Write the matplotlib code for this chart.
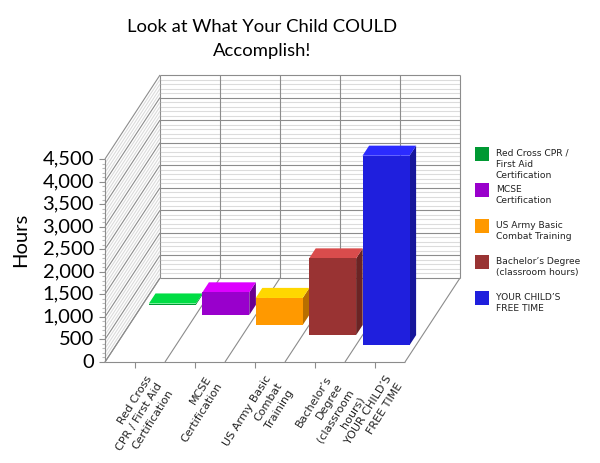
import numpy as np
import matplotlib.pyplot as plt
from matplotlib.patches import Polygon, Rectangle

plt.rcParams['font.family'] = ['Lato', 'DejaVu Sans']

# data
categories = ["Red Cross\nCPR / First Aid\nCertification", "MCSE\nCertification",
              "US Army Basic\nCombat\nTraining", "Bachelor\u2019s\nDegree\n(classroom\nhours)",
              "YOUR CHILD\u2019S\nFREE TIME"]
legend_labels = ["Red Cross CPR /\nFirst Aid\nCertification", "MCSE\nCertification",
                 "US Army Basic\nCombat Training", "Bachelor\u2019s Degree\n(classroom hours)",
                 "YOUR CHILD\u2019S\nFREE TIME"]
hours = [30, 500, 600, 1700, 4200]
y_major = np.arange(0, 4501, 500)
y_minor = np.arange(0, 4501, 100)

front_colors = ['#009933', '#9900CC', '#FF9900', '#993333', '#1F1FDD']
top_colors = ['#00DD44', '#DD00FF', '#FFD700', '#D94C4C', '#2B2BFF']
side_colors = ['#007A29', '#6B008F', '#B86E00', '#6B2424', '#17179B']

# layout (pixels of a 600x463 picture)
W, H = 600, 463
PX_CAT = 60.0            # pixels per category
PX_HOUR = 203 / 4500     # pixels per hour
X0, Y0 = 105, 362        # front-left floor corner
DX = 55 / PX_CAT         # depth offset in category units
DY = 84 / PX_HOUR        # depth offset in hour units
BAR_W = 47 / PX_CAT
BAR_D = 0.12
GRID = '#8c8c8c'
MINOR = '#dcdcdc'
SMALL = 'DejaVu Sans'
n = len(hours)


def proj(x, h, d):
    return x + d * DX, h + d * DY


fig = plt.figure(figsize=(W / 100, H / 100), dpi=100)
ax = fig.add_axes([0, 0, 1, 1])
ax.set_xlim(-0.5 - X0 / PX_CAT, -0.5 + (W - X0) / PX_CAT)
ax.set_ylim(-(H - Y0) / PX_HOUR, Y0 / PX_HOUR)
ax.axis('off')

left, right = -0.5, n - 0.5
top = y_major[-1]


def line(p, q, color=GRID, lw=0.8, z=1):
    ax.plot([p[0], q[0]], [p[1], q[1]], color=color, lw=lw, zorder=z,
            solid_capstyle='butt')


# back wall
for h in y_minor:
    if h % 500:
        line(proj(left, h, 1), proj(right, h, 1), MINOR)
for h in y_major:
    line(proj(left, h, 1), proj(right, h, 1))
for k in range(n + 1):
    line(proj(left + k, 0, 1), proj(left + k, top, 1))

# left wall
for h in y_minor:
    if h % 500:
        line(proj(left, h, 0), proj(left, h, 1), MINOR)
        line(proj(left - 3 / PX_CAT, h, 0), proj(left, h, 0), '#bbbbbb')
for h in y_major:
    line(proj(left, h, 0), proj(left, h, 1))
    line(proj(left - 6 / PX_CAT, h, 0), proj(left, h, 0))
    ax.text(left - 11 / PX_CAT, h, f'{h:,}', ha='right', va='center', fontsize=14.5)
line(proj(left, 0, 0), proj(left, top, 0))

# floor
for k in range(n + 1):
    line(proj(left + k, 0, 0), proj(left + k, 0, 1))
line(proj(left, 0, 0), proj(right, 0, 0))
for i, lab in enumerate(categories):
    line((i, 0), (i, -6 / PX_HOUR))
    ax.text(i + 10 / PX_CAT, -12 / PX_HOUR, lab, rotation=58, rotation_mode='anchor',
            ha='right', va='top', multialignment='right', fontsize=8,
            family=SMALL, color='#222222', linespacing=1.38)

# bars, back to front
for i, v in enumerate(hours):
    df = 0.2 + BAR_D * (n - 1 - i)
    db = df + BAR_D
    x0, x1 = i - BAR_W / 2, i + BAR_W / 2
    front = [proj(x0, 0, df), proj(x1, 0, df), proj(x1, v, df), proj(x0, v, df)]
    side = [proj(x1, 0, df), proj(x1, 0, db), proj(x1, v, db), proj(x1, v, df)]
    topf = [proj(x0, v, df), proj(x1, v, df), proj(x1, v, db), proj(x0, v, db)]
    ax.add_patch(Polygon(side, closed=True, fc=side_colors[i], ec='none', zorder=3))
    ax.add_patch(Polygon(topf, closed=True, fc=top_colors[i], ec='none', zorder=3))
    ax.add_patch(Polygon(front, closed=True, fc=front_colors[i], ec='none', zorder=3))

# title and axis label
fig.text(262 / W, 1 - 39 / H, 'Look at What Your Child COULD\nAccomplish!',
         ha='center', va='center', fontsize=13.3, linespacing=1.6)
fig.text(21 / W, 1 - 240 / H, 'Hours', rotation=90, ha='center', va='center',
         fontsize=14.5)

# legend
for i, lab in enumerate(legend_labels):
    y = 147 + 36 * i
    fig.patches.append(Rectangle((475 / W, 1 - (y + 14) / H), 14 / W, 14 / H,
                                 transform=fig.transFigure, fc=front_colors[i], ec='none'))
    fig.text(496 / W, 1 - (y + 2) / H, lab, ha='left', va='top', fontsize=6.6,
             family=SMALL, color='#222222', linespacing=1.3)

fig.savefig('out.png', dpi=100)
